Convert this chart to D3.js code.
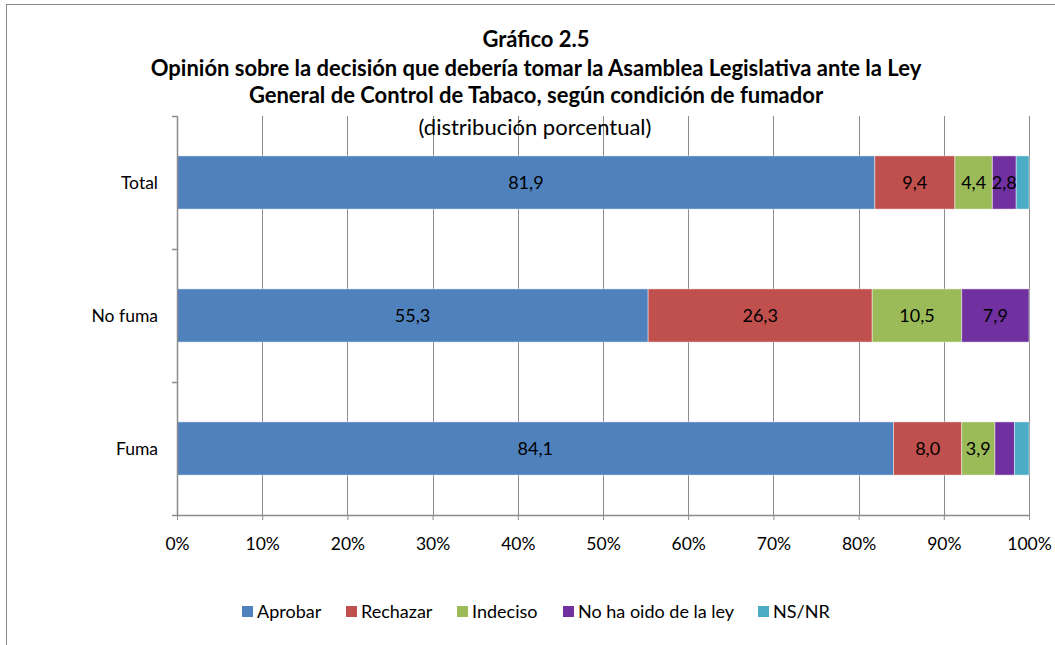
<!DOCTYPE html>
<html><head><meta charset="utf-8">
<script src="https://cdn.jsdelivr.net/npm/d3@7"></script>
<style>body{margin:0;background:#fff;} svg{display:block;font-family:Lato,"Open Sans",sans-serif;}</style>
</head><body>
<svg id="c" width="1055" height="645"></svg>
<script>
const categories = ["Total", "No fuma", "Fuma"];
const seriesNames = ["Aprobar", "Rechazar", "Indeciso", "No ha oido de la ley", "NS/NR"];
const aprobar = [81.9, 55.3, 84.1];
const rechazar = [9.4, 26.3, 8.0];
const indeciso = [4.4, 10.5, 3.9];
const noHaOido = [2.8, 7.9, 2.3];
const nsnr = [1.5, 0.0, 1.7];
const xTicks = [0, 10, 20, 30, 40, 50, 60, 70, 80, 90, 100];
const colors = ["#4F81BD", "#C0504D", "#9BBB59", "#7030A0", "#4BACC6"];
const titleLines = ["Gráfico 2.5",
  "Opinión sobre la decisión que debería tomar la Asamblea Legislativa ante la Ley",
  "General de Control de Tabaco, según condición de fumador"];
const subtitle = "(distribución porcentual)";

const svg = d3.select("#c");
svg.append("rect").attr("x", 6.5).attr("y", 4.5).attr("width", 1100).attr("height", 700)
  .attr("fill", "none").attr("stroke", "#888").attr("stroke-width", 1);

const L = 177, R = 1029, T = 116, B = 515;
const x = d3.scaleLinear().domain([0, 100]).range([L, R]);
const y = d3.scaleBand().domain(categories).range([T, B]).paddingInner(0.6).paddingOuter(0.3);

// gridlines
svg.append("g").selectAll("line").data(xTicks.slice(1)).join("line")
  .attr("x1", d => Math.round(x(d)) + 0.5).attr("x2", d => Math.round(x(d)) + 0.5)
  .attr("y1", T).attr("y2", B).attr("stroke", "#8c8c8c").attr("stroke-width", 1);

// title (drawn under bars, over gridlines like reference)
const ty = [47, 76, 103];
titleLines.forEach((t, i) => {
  svg.append("text").attr("x", 536).attr("y", ty[i]).attr("text-anchor", "middle")
    .attr("font-size", 22).attr("font-weight", "bold").text(t);
});
svg.append("text").attr("x", 535).attr("y", 135).attr("text-anchor", "middle")
  .attr("font-size", 22).text(subtitle);

// stacked data
const table = categories.map((c, i) => ({cat: c, vals: [aprobar[i], rechazar[i], indeciso[i], noHaOido[i], nsnr[i]]}));
const stack = d3.stack().keys(d3.range(seriesNames.length)).value((d, k) => d.vals[k]);
const layers = stack(table);

const g = svg.append("g");
layers.forEach((layer, k) => {
  g.selectAll(null).data(layer.filter(s => s[1] - s[0] > 0)).join("rect")
    .attr("x", s => x(s[0])).attr("width", s => x(s[1]) - x(s[0]))
    .attr("y", s => y(s.data.cat)).attr("height", y.bandwidth())
    .attr("fill", colors[k]).attr("stroke", "rgba(255,255,255,0.45)").attr("stroke-width", 1);
});
layers.forEach((layer, k) => {
  g.selectAll(null).data(layer.filter(s => s[1] - s[0] >= 2.5)).join("text")
    .attr("x", s => (x(s[0]) + x(s[1])) / 2).attr("y", s => y(s.data.cat) + y.bandwidth() / 2)
    .attr("dy", "0.36em").attr("text-anchor", "middle").attr("font-size", 18).attr("fill", "#000")
    .text(s => d3.format(".1f")(s[1] - s[0]).replace(".", ","));
});

// x axis
const xa = svg.append("g").attr("transform", `translate(0,${B})`)
  .call(d3.axisBottom(x).tickValues(xTicks).tickFormat(d => d + "%").tickSize(5).tickSizeOuter(0));
xa.select(".domain").attr("stroke", "#8c8c8c").attr("stroke-width", 1.5);
xa.selectAll(".tick line").attr("stroke", "#8c8c8c");
xa.selectAll(".tick text").attr("font-size", 17.5).attr("font-family", "Lato").attr("fill", "#000")
  .attr("y", 29).attr("dy", "0.36em");

// y axis
const yBounds = [T].concat(categories.map(c => y(c) - y.step() * y.paddingInner() / 2 + y.step()));
svg.append("line").attr("x1", L + 0.5).attr("x2", L + 0.5).attr("y1", T).attr("y2", B)
  .attr("stroke", "#8c8c8c").attr("stroke-width", 1.5);
svg.append("g").selectAll("line").data(yBounds).join("line")
  .attr("x1", L - 5).attr("x2", L).attr("y1", d => Math.round(d) + 0.5).attr("y2", d => Math.round(d) + 0.5)
  .attr("stroke", "#8c8c8c").attr("stroke-width", 1.5);
svg.append("g").selectAll("text").data(categories).join("text")
  .attr("x", 158).attr("y", d => y(d) + y.bandwidth() / 2).attr("dy", "0.36em")
  .attr("text-anchor", "end").attr("font-size", 17.5).text(d => d);

// legend
const legX = [242, 346, 457, 563, 758];
const lg = svg.append("g");
seriesNames.forEach((n, k) => {
  lg.append("rect").attr("x", legX[k]).attr("y", 606).attr("width", 11).attr("height", 11).attr("fill", colors[k]);
  lg.append("text").attr("x", legX[k] + 15).attr("y", 612).attr("dy", "0.36em").attr("font-size", 18).text(n);
});
</script>
</body></html>
